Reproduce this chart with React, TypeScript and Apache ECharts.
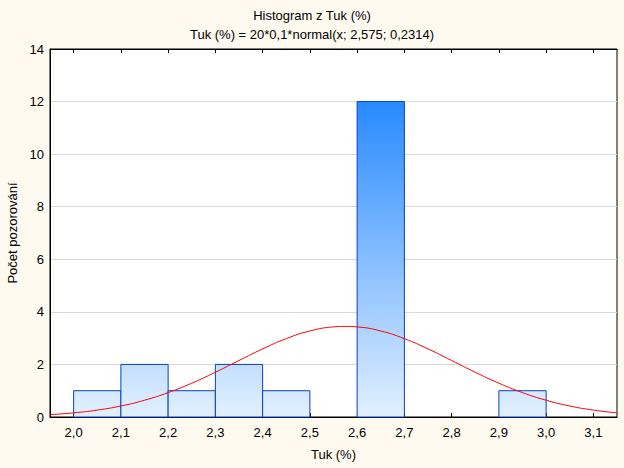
import React, { useEffect, useRef } from "react";
import * as echarts from "echarts";

// Histogram bins (lower edge, upper edge) and counts
const binStarts = [2.0, 2.1, 2.2, 2.3, 2.4, 2.5, 2.6, 2.7, 2.8, 2.9];
const binEnds = [2.1, 2.2, 2.3, 2.4, 2.5, 2.6, 2.7, 2.8, 2.9, 3.0];
const counts = [1, 2, 1, 2, 1, 0, 12, 0, 0, 1];

// Fitted normal curve, sampled values
const curveX = [1.95, 2.0, 2.05, 2.1, 2.15, 2.2, 2.25, 2.3, 2.35, 2.4, 2.45, 2.5, 2.55, 2.575, 2.6, 2.65, 2.7, 2.75, 2.8, 2.85, 2.9, 2.95, 3.0, 3.05, 3.1, 3.15];
const curveY = [0.09, 0.157, 0.263, 0.419, 0.638, 0.928, 1.286, 1.702, 2.149, 2.591, 2.98, 3.272, 3.428, 3.448, 3.428, 3.272, 2.98, 2.591, 2.149, 1.702, 1.286, 0.928, 0.638, 0.419, 0.263, 0.157];

const xTicks = [2.0, 2.1, 2.2, 2.3, 2.4, 2.5, 2.6, 2.7, 2.8, 2.9, 3.0, 3.1];
const yTicks = [0, 2, 4, 6, 8, 10, 12, 14];

const titleLine1 = "Histogram z Tuk (%)";
const titleLine2 = "Tuk (%) = 20*0,1*normal(x; 2,575; 0,2314)";
const xName = "Tuk (%)";
const yName = "Počet pozorování";

const FONT = "'Liberation Sans', Arial, sans-serif";
const FS = 13;

const topRGB = [40, 138, 255];
const botRGB = [226, 240, 255];
function colorAt(v: number) {
  const t = Math.max(0, Math.min(1, v / 12));
  const c = botRGB.map((b, i) => Math.round(b + (topRGB[i] - b) * t));
  return `rgb(${c[0]},${c[1]},${c[2]})`;
}

export default function App() {
  const ref = useRef<HTMLDivElement>(null);
  useEffect(() => {
    if (!ref.current) return;
    const chart = echarts.init(ref.current, undefined, { renderer: "svg" });
    const histData = binStarts
      .map((s, i) => [s, binEnds[i], counts[i]])
      .filter((d) => d[2] > 0);
    const lineData = curveX.map((x, i) => [x, curveY[i]]);
    const axisCommon = {
      type: "value" as const,
      min: 1.95,
      max: 3.15,
    };
    chart.setOption({
      animation: false,
      backgroundColor: "#fffaf0",
      textStyle: { fontFamily: FONT },
      title: {
        text: titleLine1 + "\n" + titleLine2,
        left: "center",
        top: 1,
        textStyle: {
          fontFamily: FONT,
          fontSize: FS,
          fontWeight: "normal",
          color: "#000",
          lineHeight: 19,
        },
      },
      grid: {
        left: 50,
        right: 7,
        top: 49,
        bottom: 51,
        show: true,
        backgroundColor: "#ffffff",
        borderColor: "#000",
        borderWidth: 1,
        containLabel: false,
        outerBoundsMode: "none",
      },
      xAxis: [
        {
          ...axisCommon,
          position: "bottom",
          name: xName,
          nameLocation: "middle",
          nameGap: 31,
          nameTextStyle: { fontFamily: FONT, fontSize: FS, color: "#000" },
          axisLine: { show: true, lineStyle: { color: "#000", width: 1 } },
          axisTick: {
            show: true,
            inside: true,
            length: 4,
            customValues: xTicks,
            lineStyle: { color: "#000" },
          },
          axisLabel: {
            customValues: xTicks,
            fontFamily: FONT,
            fontSize: FS,
            color: "#000",
            margin: 9,
            formatter: (v: number) => v.toFixed(1).replace(".", ","),
          },
          splitLine: { show: false },
        },
        {
          ...axisCommon,
          position: "top",
          axisLine: { show: true, lineStyle: { color: "#000", width: 1 } },
          axisTick: {
            show: true,
            inside: true,
            length: 4,
            customValues: xTicks,
            lineStyle: { color: "#000" },
          },
          axisLabel: { show: false },
          splitLine: { show: false },
        },
      ],
      yAxis: {
        type: "value",
        min: 0,
        max: 14,
        interval: 2,
        name: yName,
        nameLocation: "middle",
        nameGap: 28,
        nameRotate: 90,
        nameTextStyle: { fontFamily: FONT, fontSize: FS, color: "#000" },
        axisLine: { show: true, lineStyle: { color: "#000", width: 1 } },
        axisTick: { show: false },
        axisLabel: {
          fontFamily: FONT,
          fontSize: FS,
          color: "#000",
          margin: 6,
          formatter: (v: number) => (yTicks.includes(v) ? String(v) : ""),
        },
        splitLine: { show: true, lineStyle: { color: "#d9d9d9", width: 1 } },
      },
      series: [
        {
          type: "custom",
          xAxisIndex: 0,
          encode: { x: [0, 1], y: 2 },
          data: histData,
          z: 2,
          renderItem: (params: any, api: any) => {
            const x0 = api.value(0);
            const x1 = api.value(1);
            const v = api.value(2);
            const p0 = api.coord([x0, v]);
            const p1 = api.coord([x1, 0]);
            return {
              type: "rect",
              shape: {
                x: p0[0],
                y: p0[1],
                width: p1[0] - p0[0],
                height: p1[1] - p0[1],
              },
              style: {
                fill: new echarts.graphic.LinearGradient(0, 0, 0, 1, [
                  { offset: 0, color: colorAt(v) },
                  { offset: 1, color: colorAt(0) },
                ]),
                stroke: "#0a3fc8",
                lineWidth: 1,
              },
            };
          },
        },
        {
          type: "line",
          xAxisIndex: 0,
          data: lineData,
          smooth: true,
          showSymbol: false,
          symbol: "none",
          z: 5,
          lineStyle: { color: "#ff0000", width: 1 },
        },
      ],
    });
    return () => chart.dispose();
  }, []);
  return (
    <div
      ref={ref}
      style={{ position: "fixed", left: 0, top: 0, width: 624, height: 468 }}
    />
  );
}
